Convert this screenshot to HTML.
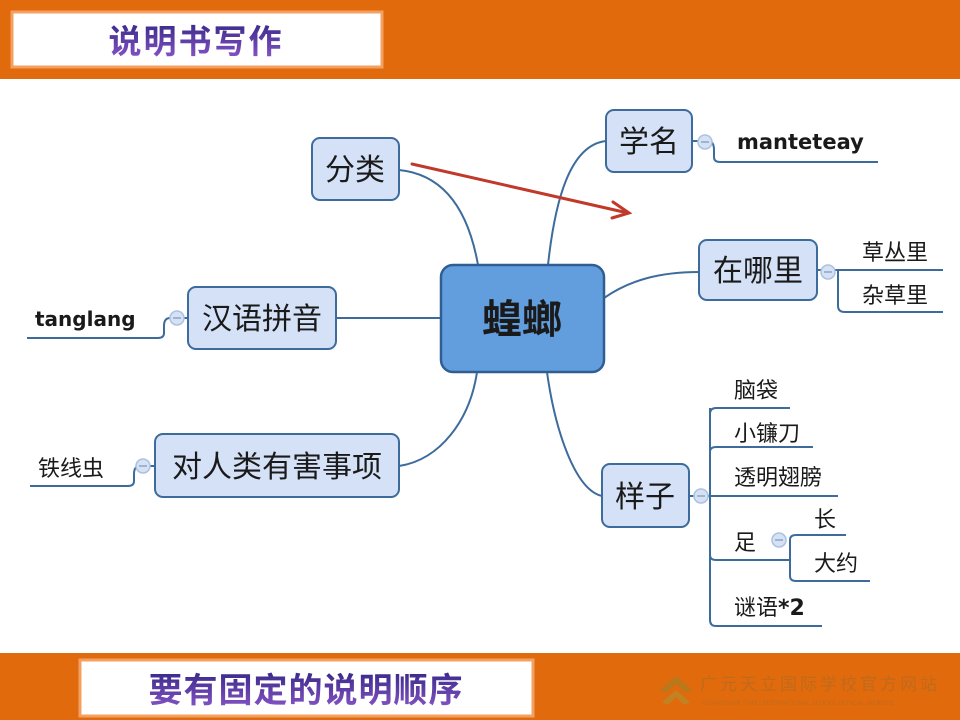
<!DOCTYPE html>
<html><head><meta charset="utf-8"><style>
html,body{margin:0;padding:0;background:#fff;}
svg{display:block}
</style></head><body>
<svg width="960" height="720" viewBox="0 0 960 720" xmlns="http://www.w3.org/2000/svg" font-family="'Liberation Sans','Noto Sans CJK SC',sans-serif">
<defs>
<linearGradient id="tt" x1="0" y1="0" x2="0" y2="1"><stop offset="0" stop-color="#3a2a8a"/><stop offset="1" stop-color="#8a55c8"/></linearGradient>
</defs>
<rect x="0" y="0" width="960" height="79" fill="#e06a0c"/>
<rect x="12" y="12" width="370" height="55" fill="#fff" stroke="#f4a060" stroke-width="3"/>
<text x="196" y="53" font-size="33" font-weight="bold" fill="url(#tt)" text-anchor="middle" letter-spacing="2">说明书写作</text>
<rect x="0" y="653" width="960" height="67" fill="#e06a0c"/>
<rect x="80" y="660" width="453" height="56" fill="#fff" stroke="#f4a060" stroke-width="3"/>
<text x="306" y="702" font-size="34" font-weight="bold" fill="url(#tt)" text-anchor="middle" letter-spacing="1">要有固定的说明顺序</text>
<g opacity="0.45">
<path d="M660 690 L676 676 L692 690 L686 693 L676 684 L666 693Z" fill="#8a8a30"/>
<path d="M662 702 L676 690 L690 702 L684 705 L676 697 L668 705Z" fill="#9aa040"/>
<text x="700" y="690" font-size="17" fill="#9a6a30" letter-spacing="3">广元天立国际学校官方网站</text>
<text x="702" y="705" font-size="6" fill="#9a6a30">GUANGYUAN TIANLI INTERNATIONAL SCHOOL OFFICIAL WEBSITE</text>
</g>

<g fill="none" stroke="#3d6c9c" stroke-width="2">
<!-- center connectors -->
<path d="M399 170 C450 175 470 220 478 265"/>
<path d="M548 265 C555 200 570 145 606 141"/>
<path d="M604 298 C630 280 660 272 699 272"/>
<path d="M336 318 L441 318"/>
<path d="M399 466 C440 460 470 420 477 372"/>
<path d="M547 372 C555 430 575 490 602 496"/>
<!-- 学名 -->
<path d="M692 141 L708 141 Q714 141 714 150 L714 157 Q714 162 720 162 L878 162"/>
<!-- 在哪里 -->
<path d="M817 270 L943 270"/>
<path d="M838 270 L838 306 Q838 312 845 312 L943 312"/>
<!-- 汉语拼音 -->
<path d="M188 318 L170 318 Q164 318 164 326 L164 333 Q164 338 158 338 L27 338"/>
<!-- 对人类 -->
<path d="M155 466 L140 466 Q134 466 134 474 L134 481 Q134 486 128 486 L30 486"/>
<!-- 样子 -->
<path d="M689 496 L790 496"/>
<path d="M716 408 L790 408"/>
<path d="M710 408 L710 620 Q710 626 716 626 L822 626"/>
<path d="M710 414 Q710 408 716 408"/>
<path d="M710 452 Q710 447 716 447 L813 447"/>
<path d="M710 496 L838 496"/>
<path d="M710 555 Q710 560 716 560 L790 560"/>
<path d="M790 560 L790 540 Q790 535 796 535 L846 535"/>
<path d="M790 560 L790 576 Q790 581 796 581 L870 581"/>
</g>
<g fill="#d6e2f4" stroke="#a9c1e2" stroke-width="1.5">
<circle cx="705" cy="142" r="7"/><circle cx="828" cy="272" r="7"/><circle cx="177" cy="318" r="7"/>
<circle cx="143" cy="466" r="7"/><circle cx="701" cy="496" r="7"/><circle cx="779" cy="540" r="7"/>
</g>
<g stroke="#8aa6c8" stroke-width="1.5">
<line x1="701" y1="142" x2="709" y2="142"/><line x1="824" y1="272" x2="832" y2="272"/><line x1="173" y1="318" x2="181" y2="318"/>
<line x1="139" y1="466" x2="147" y2="466"/><line x1="697" y1="496" x2="705" y2="496"/><line x1="775" y1="540" x2="783" y2="540"/>
</g>

<!-- nodes -->
<g fill="#d4e1f6" stroke="#3d6c9c" stroke-width="2">
<rect x="312" y="138" width="87" height="62" rx="8"/>
<rect x="606" y="110" width="86" height="62" rx="8"/>
<rect x="699" y="240" width="118" height="60" rx="8"/>
<rect x="188" y="287" width="148" height="62" rx="8"/>
<rect x="155" y="434" width="244" height="63" rx="8"/>
<rect x="602" y="464" width="87" height="63" rx="8"/>
</g>
<rect x="441" y="265" width="163" height="107" rx="12" fill="#629ede" stroke="#2f5f92" stroke-width="2.5"/>
<g fill="#1a1a1a" font-size="30" text-anchor="middle">
<text x="355" y="180">分类</text>
<text x="649" y="152">学名</text>
<text x="758" y="281">在哪里</text>
<text x="262" y="329">汉语拼音</text>
<text x="277" y="477">对人类有害事项</text>
<text x="645" y="507">样子</text>
<text x="522" y="333" font-size="40" font-weight="bold">蝗螂</text>
</g>
<g fill="#1a1a1a" font-size="22">
<text x="737" y="149" font-weight="bold" font-size="21" font-family="'DejaVu Sans',sans-serif">manteteay</text>
<text x="862" y="260">草丛里</text>
<text x="862" y="303">杂草里</text>
<text x="35" y="326" font-weight="bold" font-size="20" font-family="'DejaVu Sans',sans-serif">tanglang</text>
<text x="38" y="476">铁线虫</text>
<text x="734" y="398">脑袋</text>
<text x="734" y="441">小镰刀</text>
<text x="734" y="485">透明翅膀</text>
<text x="734" y="550">足</text>
<text x="814" y="527">长</text>
<text x="814" y="571">大约</text>
<text x="734" y="615">谜语<tspan font-weight="bold" font-family="'DejaVu Sans',sans-serif">*2</tspan></text>
</g>
<!-- red arrow -->
<g stroke="#c0392b" stroke-width="3" fill="none" stroke-linecap="round">
<line x1="412" y1="164" x2="628" y2="213"/>
<polyline points="613,202 629,213 612,218"/>
</g>
</svg>
</body></html>
